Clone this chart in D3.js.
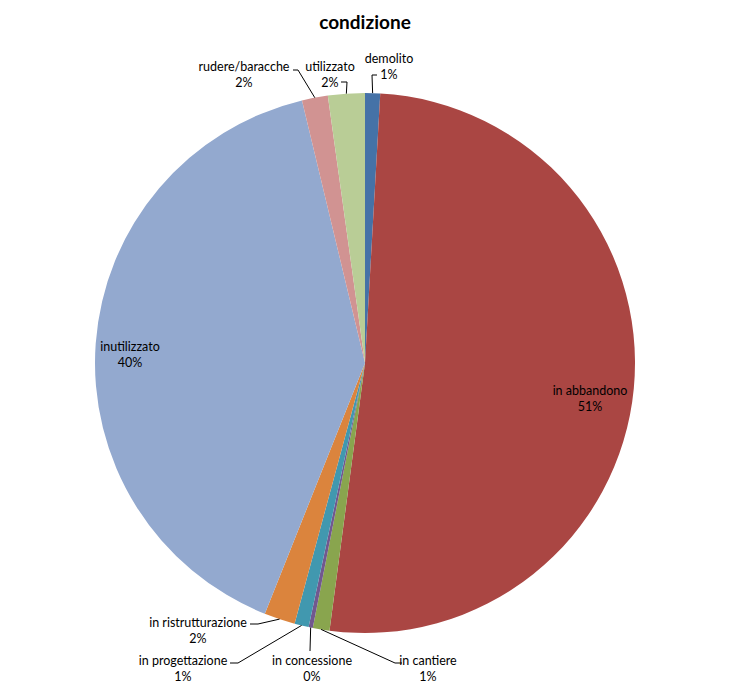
<!DOCTYPE html>
<html>
<head>
<meta charset="utf-8">
<script src="https://cdn.jsdelivr.net/npm/d3@7"></script>
<style>
  body { margin: 0; background: #fff; }
  text { font-family: Lato, "Open Sans", sans-serif; }
</style>
</head>
<body>
<script>
const width = 730;
const height = 684;

// data, clockwise from 12 o'clock
const categories = ["demolito", "in abbandono", "in cantiere", "in concessione",
    "in progettazione", "in ristrutturazione", "inutilizzato", "rudere/baracche", "utilizzato"];
const values = [0.9, 51.2, 1.0, 0.25, 0.85, 1.85, 40.2, 1.55, 2.2];
const colors = ["#4572A7", "#AA4643", "#89A54E", "#71588F", "#4198AF",
    "#DB843D", "#93A9CF", "#D19392", "#B9CD96"];

// label layout: text centre, elbow of leader line (null = label inside the slice)
const labelPos = [
    { x: 389, y: 63, elbow: [372, 75], lineStart: [377, 75] },
    { x: 590, y: 395, elbow: null },
    { x: 428, y: 665, elbow: [395, 663], lineStart: [402, 663] },
    { x: 312, y: 665, elbow: [310, 651], lineStart: [310, 651] },
    { x: 183, y: 665, elbow: [238, 663], lineStart: [230, 663] },
    { x: 198, y: 627, elbow: [258, 624], lineStart: [250, 624] },
    { x: 130, y: 351, elbow: null },
    { x: 244, y: 71, elbow: [298, 70], lineStart: [293, 70] },
    { x: 330, y: 71, elbow: [347, 82], lineStart: [341, 82] }
];

const cx = 365, cy = 363, radius = 270;
const total = d3.sum(values);

const svg = d3.select("body")
    .append("svg")
    .attr("width", width)
    .attr("height", height);

svg.append("text")
    .attr("x", cx)
    .attr("y", 29)
    .attr("text-anchor", "middle")
    .style("font-weight", "bold")
    .style("font-size", "19px")
    .text("condizione");

const pie = d3.pie().sort(null).value(d => d);
const arcs = pie(values);
const arc = d3.arc().innerRadius(0).outerRadius(radius);

const g = svg.append("g").attr("transform", `translate(${cx},${cy})`);

g.selectAll("path")
    .data(arcs)
    .join("path")
    .attr("d", arc)
    .attr("fill", (d, i) => colors[i]);

// leader lines
arcs.forEach(function (d, i) {
    const p = labelPos[i];
    if (!p.elbow) return;
    const mid = (d.startAngle + d.endAngle) / 2;
    const ex = cx + radius * Math.sin(mid);
    const ey = cy - radius * Math.cos(mid);
    svg.append("polyline")
        .attr("points", [p.lineStart, p.elbow, [ex, ey]].map(q => q.join(",")).join(" "))
        .attr("fill", "none")
        .attr("stroke", "#000")
        .attr("stroke-width", 1);
});

// labels
arcs.forEach(function (d, i) {
    const p = labelPos[i];
    const t = svg.append("text")
        .attr("text-anchor", "middle")
        .style("font-size", "12.5px")
        .style("fill", "#000");
    t.append("tspan").attr("x", p.x).attr("y", p.y).text(categories[i]);
    t.append("tspan").attr("x", p.x).attr("y", p.y + 16)
        .text(Math.round(values[i] / total * 100) + "%");
});
</script>
</body>
</html>
